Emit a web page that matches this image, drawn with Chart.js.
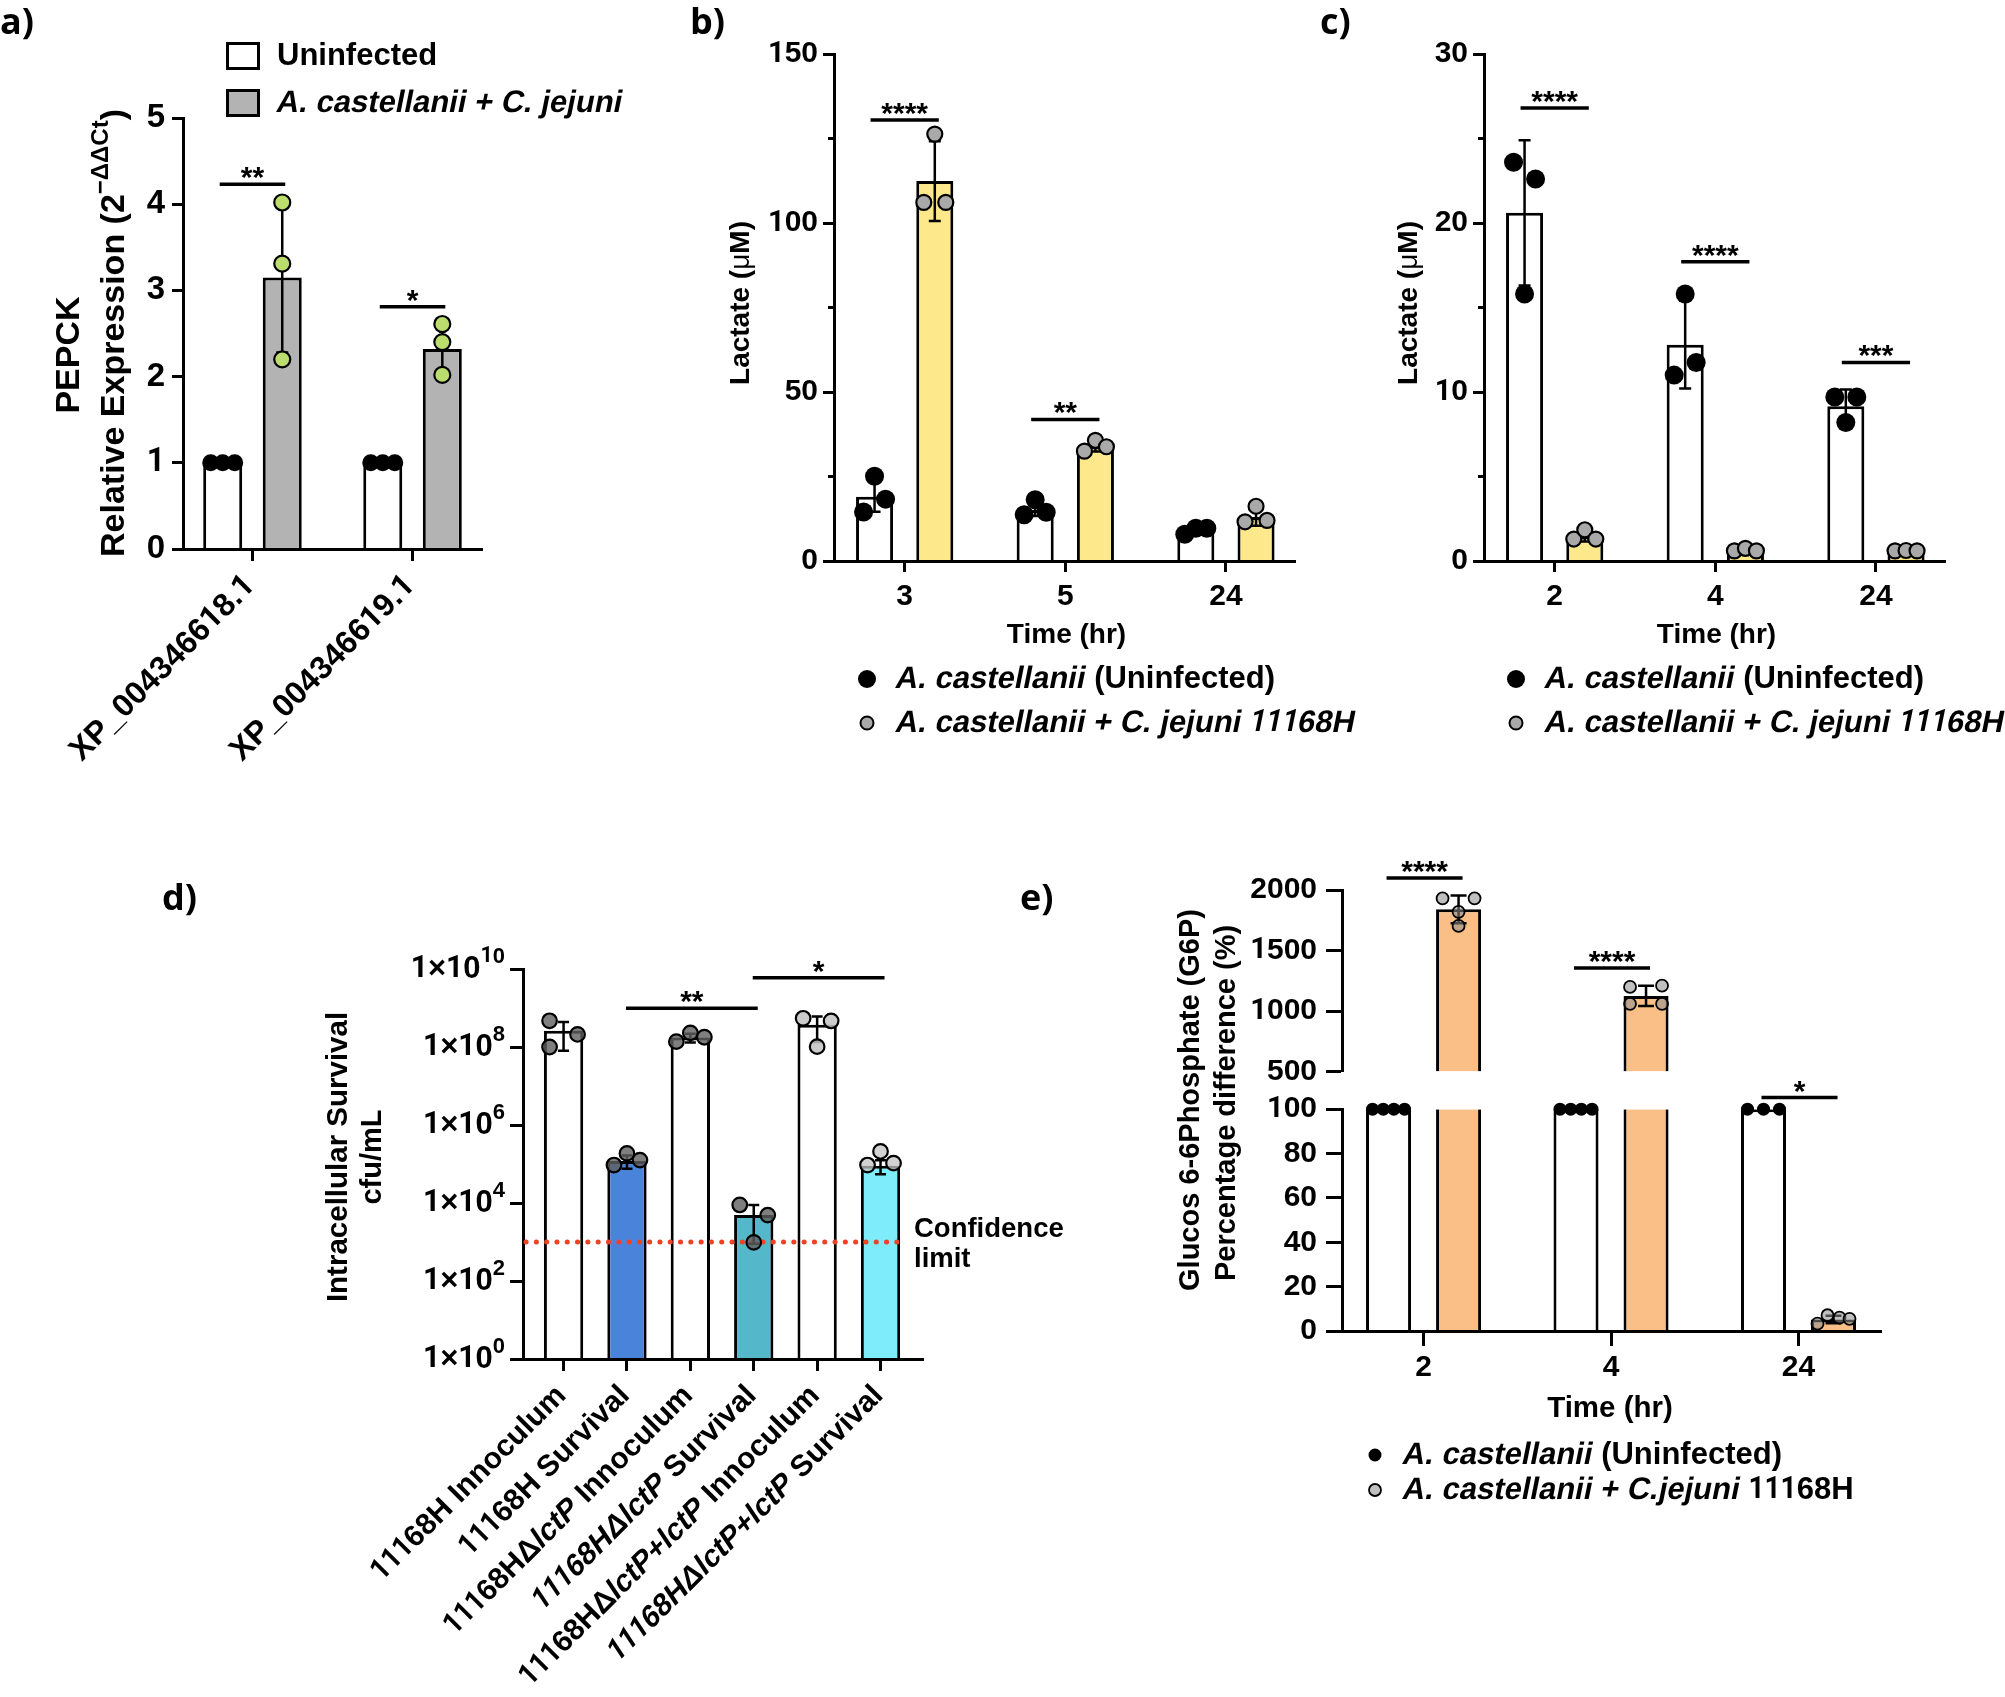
<!DOCTYPE html>
<html>
<head>
<meta charset="utf-8">
<script src="https://cdn.jsdelivr.net/npm/chart.js@4.4.1/dist/chart.umd.min.js"></script>
<style>
  html, body { margin: 0; padding: 0; background: #fff; }
  #page { position: relative; width: 2005px; height: 1697px; overflow: hidden; background: #fff; }
  #page canvas { position: absolute; left: 0; top: 0; }
</style>
</head>
<body>
<div id="page">
  <canvas id="cA" width="2005" height="1697"></canvas>
  <canvas id="cB" width="2005" height="1697"></canvas>
  <canvas id="cC" width="2005" height="1697"></canvas>
  <canvas id="cD" width="2005" height="1697"></canvas>
  <canvas id="cE" width="2005" height="1697"></canvas>
</div>
<script>
const FONT = '"Liberation Sans", Arial, Helvetica, sans-serif';
const ONE_FONT = 'Roboto, "Liberation Sans", sans-serif'; // footless "1" like Arial
const LABEL_FONT = '"Open Sans", "Noto Sans", sans-serif';
const BLACK = '#000000';
const PAGE_W = 2005, PAGE_H = 1697;

// ---------- a) PEPCK relative expression
const aGenes = ["XP_004346618.1", "XP_004346619.1"];
const aUninfMean = [1, 1];
const aUninfSd = [0, 0];
const aUninfPts = [[1, 1, 1], [1, 1, 1]];
const aInfMean = [3.15, 2.32];
const aInfSd = [0.87, 0.29];
const aInfPts = [[4.02, 3.31, 2.2], [2.61, 2.4, 2.02]];
const aTicks = [0, 1, 2, 3, 4, 5];
const aStars = ["**", "*"];
const aStarAt = [4.23, 2.81];

// ---------- b) lactate, 3/5/24 h
const bTimes = ["3", "5", "24"];
const bUninfMean = [19.0, 15.1, 9.2];
const bUninfSd = [4.4, 1.8, 0.9];
const bUninfPts = [[14.5, 25.1, 18.3], [13.7, 18.1, 14.4], [7.9, 9.7, 9.7]];
const bInfMean = [112.4, 33.9, 13.0];
const bInfSd = [11.8, 1.5, 2.6];
const bInfPts = [[106.1, 126.3, 106.1], [32.5, 35.7, 33.8], [11.6, 16.2, 12.0]];
const bTicks = [0, 50, 100, 150];
const bMinor = [25, 75, 125];
const bStars = ["****", "**", ""];
const bStarAt = [130.5, 41.9, null];

// ---------- c) lactate, 2/4/24 h
const cTimes = ["2", "4", "24"];
const cUninfMean = [20.6, 12.8, 9.15];
const cUninfSd = [4.3, 2.6, 1.0];
const cUninfPts = [[23.6, 15.8, 22.6], [11.0, 15.8, 11.75], [9.7, 8.2, 9.7]];
const cInfMean = [1.45, 0.65, 0.6];
const cInfSd = [0.3, 0.1, 0.05];
const cInfPts = [[1.3, 1.85, 1.3], [0.6, 0.75, 0.6], [0.6, 0.62, 0.6]];
const cTicks = [0, 10, 20, 30];
const cMinor = [5, 15, 25];
const cStars = ["****", "****", "***"];
const cStarAt = [26.8, 17.7, 11.75];

// ---------- d) intracellular survival (log)
const dStrains = ["11168H Innoculum", "11168H Survival", "11168H\u0394lctP Innoculum",
  "11168H\u0394lctP Survival", "11168H\u0394lctP+lctP Innoculum", "11168H\u0394lctP+lctP Survival"];
const dItalic = ["", "", "lctP", "11168H\u0394lctP", "lctP+lctP", "11168H\u0394lctP+lctP"];
const dMean = [2.6e8, 1.2e5, 1.75e8, 4.9e3, 3.7e8, 9.0e4];
const dSd = [1.8e8, 4.5e4, 4.5e7, 4.0e3, 2.35e8, 3.5e4];
const dPts = [[4.7e8, 1.0e8, 2.1e8], [9.4e4, 1.87e5, 1.26e5], [1.37e8, 2.3e8, 1.78e8],
  [8.9e3, 4.9e3, 9.8e2], [5.45e8, 4.65e8, 1.02e8], [9.4e4, 2.1e5, 1.05e5]];
const dTicks = [1, 1e2, 1e4, 1e6, 1e8, 1e10];
const dLimit = 1e3;
const dSigFrom = [1, 3];
const dSigTo = [3, 5];
const dSigAt = [9.8e8, 6.0e9];
const dSigLabel = ["**", "*"];

// ---------- e) glucose 6-phosphate (broken axis)
const eTimes = ["2", "4", "24"];
const eUninfMean = [100, 100, 100];
const eUninfPts = [[100, 100, 100, 100], [100, 100, 100, 100], [100, 100, 100]];
const eInfMean = [1840, 1125, 5.2];
const eInfSd = [115, 83, 1.7];
const eInfPts = [[1931, 1931, 1820, 1703], [1199, 1210, 1060, 1060], [3.3, 7.1, 6.0, 5.5]];
const eLowRange = [0, 100];
const eHighRange = [500, 2000];
const eLowTicks = [0, 20, 40, 60, 80, 100];
const eHighTicks = [500, 1000, 1500, 2000];
const eStars = ["****", "****", "*"];
const eStarAt = [2100, 1356, 105.2];

// ---------- colours
const GRAY_BAR = '#b3b3b3';
const GREEN_DOT = '#bbdd6e';
const YELLOW = '#fde98c';
const GRAY_DOT = '#a9a9a9';
const ORANGE = '#f9bf86';
const D_COLORS = ['#ffffff', '#4a84da', '#ffffff', '#55b8ca', '#ffffff', '#7eecfb'];
const D_DOTS = ['rgba(95,95,95,0.8)', 'rgba(95,95,95,0.8)', 'rgba(95,95,95,0.8)',
  'rgba(95,95,95,0.8)', 'rgba(195,195,195,0.85)', 'rgba(195,195,195,0.75)'];
const E_DOT = 'rgba(140,140,140,0.55)';
const LIMIT_RED = '#ef4123';

// ---------- helpers
function xy(vals) { return vals.map((v, i) => ({ x: i, y: v })); }

// mixed-style text; italic is a sheared upright bold, runs of "1" use a footless face
// squeezed to the advance width of the main face
function rich(ctx, parts, x, y, o) {
  const size = o.size;
  const fam = o.family || FONT;
  const supSize = Math.round(size * 0.7);
  const runs = [];
  parts.forEach(p => p.t.split(/(1+)/).forEach(s => {
    if (s) runs.push(Object.assign({}, p, { t: s, one: !o.family && /^1+$/.test(s) }));
  }));
  const fontOf = (r, alt) => (r.w || 'bold') + ' ' + (r.sup ? supSize : size) + 'px ' + (alt ? ONE_FONT : fam);
  let total = 0;
  const widths = runs.map(r => {
    ctx.font = fontOf(r, false);
    const w = ctx.measureText(r.t).width;
    if (r.one) { ctx.font = fontOf(r, true); r.sx = w / ctx.measureText(r.t).width; }
    total += w;
    return w;
  });
  ctx.save();
  ctx.translate(x, y);
  if (o.rot) ctx.rotate(o.rot);
  ctx.fillStyle = o.color || BLACK;
  ctx.textAlign = 'left';
  ctx.textBaseline = o.baseline || 'middle';
  let cx = o.align === 'center' ? -total / 2 : (o.align === 'right' ? -total : 0);
  runs.forEach((r, k) => {
    ctx.font = fontOf(r, r.one);
    ctx.save();
    ctx.translate(cx, r.sup ? -size * 0.4 : 0);
    if (r.i) ctx.transform(1, 0, -0.2, 1, 0, 0);
    if (r.one) ctx.scale(r.sx, 1);
    ctx.fillText(r.t, 0, 0);
    ctx.restore();
    cx += widths[k];
  });
  ctx.restore();
}

function panelLabel(ctx, t, x, y) {
  rich(ctx, [{ t: t }], x, y, { size: 36, family: LABEL_FONT, baseline: 'alphabetic' });
}

function yLabels(ctx, scale, vals, x, size) {
  vals.forEach(v => rich(ctx, [{ t: String(v) }], x, scale.getPixelForValue(v), { size: size, align: 'right' }));
}

function xLabels(ctx, scale, cats, y, size) {
  cats.forEach((c, i) => rich(ctx, [{ t: c }], scale.getPixelForValue(i), y, { size: size, align: 'center' }));
}

function barX(chart, ds, i) { return chart.getDatasetMeta(ds).data[i].x; }

function errorBars(chart, ctx, ds, means, sds, yP, cap, lw) {
  ctx.save();
  ctx.strokeStyle = BLACK;
  ctx.lineWidth = lw;
  means.forEach((m, i) => {
    if (!sds[i]) return;
    const x = barX(chart, ds, i);
    const yT = yP(m + sds[i]), yB = yP(m - sds[i]);
    ctx.beginPath();
    ctx.moveTo(x, yT); ctx.lineTo(x, yB);
    ctx.moveTo(x - cap, yT); ctx.lineTo(x + cap, yT);
    ctx.moveTo(x - cap, yB); ctx.lineTo(x + cap, yB);
    ctx.stroke();
  });
  ctx.restore();
}

function dotSeries(chart, ctx, ds, pts, jit, yP, st) {
  ctx.save();
  pts.forEach((group, i) => {
    const x0 = barX(chart, ds, i);
    const j = Array.isArray(jit[0]) ? jit[i] : jit;
    group.forEach((v, k) => {
      ctx.beginPath();
      ctx.arc(x0 + j[k], yP(v), st.r, 0, Math.PI * 2);
      ctx.fillStyle = typeof st.fill === 'function' ? st.fill(i) : st.fill;
      ctx.fill();
      if (st.line) { ctx.lineWidth = st.line; ctx.strokeStyle = BLACK; ctx.stroke(); }
    });
  });
  ctx.restore();
}

function dot(ctx, x, y, r, fill, line) {
  ctx.beginPath();
  ctx.arc(x, y, r, 0, Math.PI * 2);
  ctx.fillStyle = fill; ctx.fill();
  if (line) { ctx.lineWidth = line; ctx.strokeStyle = BLACK; ctx.stroke(); }
}

function sigBar(ctx, x1, x2, y, label) {
  ctx.save();
  ctx.strokeStyle = BLACK; ctx.lineWidth = 3.5;
  ctx.beginPath(); ctx.moveTo(x1, y); ctx.lineTo(x2, y); ctx.stroke();
  ctx.restore();
  rich(ctx, [{ t: label }], (x1 + x2) / 2, y + 3, { size: 30, align: 'center', baseline: 'alphabetic' });
}

function minorTicks(ctx, scale, vals, len) {
  ctx.save();
  ctx.strokeStyle = BLACK; ctx.lineWidth = 3;
  vals.forEach(v => {
    const y = scale.getPixelForValue(v);
    ctx.beginPath(); ctx.moveTo(scale.right - len, y); ctx.lineTo(scale.right, y); ctx.stroke();
  });
  ctx.restore();
}

function yAxisCfg(o) {
  return {
    type: o.type || 'linear',
    position: 'left',
    min: o.min,
    max: o.max,
    stacked: false,
    afterFit: s => { s.width = o.width; },
    afterBuildTicks: s => { s.ticks = o.ticks.map(v => ({ value: v })); },
    border: { display: true, color: BLACK, width: 3, z: 1 },
    grid: { display: true, drawOnChartArea: false, drawTicks: true, tickLength: o.tickLength, tickWidth: 3, tickColor: BLACK, z: 1 },
    ticks: { display: false }
  };
}

function xAxisCfg(o) {
  return {
    type: 'linear',
    position: 'bottom',
    offset: false,
    min: o.min,
    max: o.max,
    afterFit: s => { s.height = o.height; },
    afterBuildTicks: s => { s.ticks = o.cats.map((c, i) => ({ value: i })); },
    border: { display: true, color: BLACK, width: 3, z: 1 },
    grid: { display: true, offset: false, drawOnChartArea: false, drawTicks: true, tickLength: o.tickLength, tickWidth: 3, tickColor: BLACK, z: 1 },
    ticks: { display: false, autoSkip: false }
  };
}

function makeChart(id, box, datasets, scales, draw) {
  return new Chart(document.getElementById(id), {
    type: 'bar',
    data: { datasets: datasets },
    options: {
      responsive: false,
      animation: false,
      events: [],
      layout: { autoPadding: false, padding: { left: 0, bottom: 0, top: box.top, right: PAGE_W - box.right } },
      plugins: { legend: { display: false }, tooltip: { enabled: false } },
      scales: scales
    },
    plugins: [{ id: 'overlay_' + id, afterDraw(chart) { const ctx = chart.ctx; ctx.save(); draw(chart, ctx); ctx.restore(); } }]
  });
}

function barSet(data, fill, yId, extra) {
  return Object.assign({
    data: data, backgroundColor: fill, borderColor: BLACK, borderWidth: 3, borderSkipped: 'start',
    xAxisID: 'x', yAxisID: yId || 'y'
  }, extra || {});
}

// ---------- a)
const boxA = { left: 183, right: 482, top: 118, bottom: 549 };
makeChart('cA', boxA,
  [
    barSet(xy(aUninfMean), '#ffffff', 'y', { categoryPercentage: 0.744, barPercentage: 0.655 }),
    barSet(xy(aInfMean), GRAY_BAR, 'y', { categoryPercentage: 0.744, barPercentage: 0.655 })
  ],
  {
    x: xAxisCfg({ cats: aGenes, min: -0.434, max: 1.434, height: PAGE_H - boxA.bottom, tickLength: 12 }),
    y: yAxisCfg({ min: 0, max: 5, ticks: aTicks, width: boxA.left, tickLength: 11 })
  },
  (chart, ctx) => {
    const ys = chart.scales.y, xs = chart.scales.x, area = chart.chartArea;
    const yP = v => ys.getPixelForValue(v);
    yLabels(ctx, ys, aTicks, area.left - 18, 33);
    errorBars(chart, ctx, 1, aInfMean, aInfSd, yP, 6, 2.5);
    dotSeries(chart, ctx, 0, aUninfPts, [-12, 0, 12], yP, { r: 8.5, fill: BLACK });
    dotSeries(chart, ctx, 1, aInfPts, [0, 0, 0], yP, { r: 8, fill: GREEN_DOT, line: 2.2 });
    aStars.forEach((s, i) => sigBar(ctx, barX(chart, 0, i) - 3, barX(chart, 1, i) + 3, yP(aStarAt[i]), s));
    aGenes.forEach((g, i) => rich(ctx, [{ t: g }], xs.getPixelForValue(i) - 2, area.bottom + 32,
      { size: 32, align: 'right', rot: -Math.PI / 4 }));
    rich(ctx, [{ t: 'PEPCK' }], 70, 355, { size: 34, align: 'center', rot: -Math.PI / 2 });
    rich(ctx, [{ t: 'Relative Expression (2' }, { t: '\u2212\u0394\u0394Ct', sup: true }, { t: ')' }], 115, 333,
      { size: 34, align: 'center', rot: -Math.PI / 2 });
    ctx.lineWidth = 3; ctx.strokeStyle = BLACK;
    ctx.fillStyle = '#ffffff'; ctx.fillRect(227.5, 43.5, 31, 25); ctx.strokeRect(227.5, 43.5, 31, 25);
    ctx.fillStyle = GRAY_BAR; ctx.fillRect(227.5, 90.5, 31, 25); ctx.strokeRect(227.5, 90.5, 31, 25);
    rich(ctx, [{ t: 'Uninfected' }], 277, 56, { size: 31 });
    rich(ctx, [{ t: 'A. castellanii + C. jejuni', i: true }], 277, 103, { size: 31 });
    panelLabel(ctx, 'a)', 0, 34);
  });

// ---------- b) and c) share a layout
function lactatePanel(id, box, cats, uM, uS, uP, iM, iS, iP, ticks, minor, ymax, stars, starAt, titleX, legendX, lbl, lblX) {
  makeChart(id, box,
    [
      barSet(xy(uM), '#ffffff', 'y', { categoryPercentage: 0.75, barPercentage: 0.615 }),
      barSet(xy(iM), YELLOW, 'y', { categoryPercentage: 0.75, barPercentage: 0.615 })
    ],
    {
      x: xAxisCfg({ cats: cats, min: -0.44, max: 2.43, height: PAGE_H - box.bottom, tickLength: 11 }),
      y: yAxisCfg({ min: 0, max: ymax, ticks: ticks, width: box.left, tickLength: 11 })
    },
    (chart, ctx) => {
      const ys = chart.scales.y, xs = chart.scales.x, area = chart.chartArea;
      const yP = v => ys.getPixelForValue(v);
      yLabels(ctx, ys, ticks, area.left - 16, 30);
      xLabels(ctx, xs, cats, area.bottom + 35.5, 30);
      minorTicks(ctx, ys, minor, 6);
      errorBars(chart, ctx, 0, uM, uS, yP, 6, 2.5);
      errorBars(chart, ctx, 1, iM, iS, yP, 6, 2.5);
      dotSeries(chart, ctx, 0, uP, [-11, 0, 11], yP, { r: 9.5, fill: BLACK });
      dotSeries(chart, ctx, 1, iP, [-11, 0, 11], yP, { r: 7.5, fill: GRAY_DOT, line: 2.2 });
      stars.forEach((s, i) => {
        if (!s) return;
        sigBar(ctx, barX(chart, 0, i) - 4, barX(chart, 1, i) + 4, yP(starAt[i]), s);
      });
      rich(ctx, [{ t: 'Lactate (' }, { t: '\u03bc', w: 'normal' }, { t: 'M)' }], titleX, 303,
        { size: 28, align: 'center', rot: -Math.PI / 2 });
      rich(ctx, [{ t: 'Time (hr)' }], (area.left + area.right) / 2 + 2, 635, { size: 28, align: 'center' });
      dot(ctx, legendX, 679, 9, BLACK, 0);
      rich(ctx, [{ t: 'A. castellanii', i: true }, { t: ' (Uninfected)' }], legendX + 29, 679, { size: 31 });
      dot(ctx, legendX, 723, 6.5, GRAY_DOT, 2);
      rich(ctx, [{ t: 'A. castellanii + C. jejuni 11168H', i: true }], legendX + 29, 723, { size: 31 });
      panelLabel(ctx, lbl, lblX, 34);
    });
}

lactatePanel('cB', { left: 834, right: 1295, top: 54, bottom: 561 }, bTimes,
  bUninfMean, bUninfSd, bUninfPts, bInfMean, bInfSd, bInfPts, bTicks, bMinor, 150, bStars, bStarAt, 741, 867, 'b)', 690);
lactatePanel('cC', { left: 1484, right: 1945, top: 54, bottom: 561 }, cTimes,
  cUninfMean, cUninfSd, cUninfPts, cInfMean, cInfSd, cInfPts, cTicks, cMinor, 30, cStars, cStarAt, 1409, 1516, 'c)', 1320);

// ---------- d)
const boxD = { left: 523, right: 923, top: 969, bottom: 1359 };
makeChart('cD', boxD,
  [barSet(xy(dMean), D_COLORS, 'y', { categoryPercentage: 1, barPercentage: 0.62 })],
  {
    x: xAxisCfg({ cats: dStrains, min: -0.64, max: 5.67, height: PAGE_H - boxD.bottom, tickLength: 12 }),
    y: yAxisCfg({ type: 'logarithmic', min: 1, max: 1e10, ticks: dTicks, width: boxD.left, tickLength: 13 })
  },
  (chart, ctx) => {
    const ys = chart.scales.y, xs = chart.scales.x, area = chart.chartArea;
    const yP = v => ys.getPixelForValue(v);
    dTicks.forEach(v => rich(ctx, [{ t: '1\u00d710' }, { t: String(Math.round(Math.log10(v))), sup: true }],
      area.left - 18, yP(v), { size: 31, align: 'right' }));
    ctx.save();
    ctx.strokeStyle = LIMIT_RED; ctx.lineWidth = 5; ctx.lineCap = 'round'; ctx.setLineDash([0.1, 10.2]);
    ctx.beginPath(); ctx.moveTo(area.left + 3, yP(dLimit)); ctx.lineTo(area.right - 18, yP(dLimit)); ctx.stroke();
    ctx.restore();
    errorBars(chart, ctx, 0, dMean, dSd, yP, 5.5, 2.5);
    dotSeries(chart, ctx, 0, dPts, [[-14, -14, 14], [-13, 0, 13], [-14, 0, 14], [-14, 14, 0], [-14, 14, 0], [-13, 0, 13]],
      yP, { r: 7.3, fill: i => D_DOTS[i], line: 2.2 });
    dSigLabel.forEach((s, k) => sigBar(ctx, barX(chart, 0, dSigFrom[k]) - 1, barX(chart, 0, dSigTo[k]) + 4, yP(dSigAt[k]), s));
    rich(ctx, [{ t: 'Confidence' }], 914, 1229, { size: 27.5 });
    rich(ctx, [{ t: 'limit' }], 914, 1259, { size: 27.5 });
    dStrains.forEach((s, i) => {
      const it = dItalic[i];
      let parts;
      if (!it) parts = [{ t: s }];
      else {
        const k = s.indexOf(it);
        parts = [{ t: s.slice(0, k) }, { t: it, i: true }, { t: s.slice(k + it.length) }].filter(p => p.t);
      }
      rich(ctx, parts, xs.getPixelForValue(i) - 2, area.bottom + 32, { size: 30, align: 'right', rot: -Math.PI / 4 });
    });
    rich(ctx, [{ t: 'Intracellular Survival' }], 339, 1157, { size: 29.5, align: 'center', rot: -Math.PI / 2 });
    rich(ctx, [{ t: 'cfu/mL' }], 373, 1157, { size: 29, align: 'center', rot: -Math.PI / 2 });
    panelLabel(ctx, 'd)', 162, 910);
  });

// ---------- e)
const boxE = { left: 1342, right: 1881, top: 890, bottom: 1331 };
const eBarOpts = { categoryPercentage: 0.747, barPercentage: 0.643 };
makeChart('cE', boxE,
  [
    barSet(xy(eUninfMean.map(v => Math.min(v, eLowRange[1]))), '#ffffff', 'yLow', Object.assign({ stack: 'u' }, eBarOpts)),
    barSet(xy(eInfMean.map(v => Math.min(v, eLowRange[1]))), ORANGE, 'yLow', Object.assign({
      stack: 'i',
      borderWidth: c => (eInfMean[c.dataIndex] > eLowRange[1] ? { top: 0, left: 3, right: 3, bottom: 0 } : 3)
    }, eBarOpts)),
    barSet(eInfMean.map((v, i) => ({ x: i, y: v > eHighRange[0] ? [eHighRange[0], v] : null })), ORANGE, 'yHigh',
      Object.assign({ stack: 'i' }, eBarOpts))
  ],
  {
    x: xAxisCfg({ cats: eTimes, min: -0.435, max: 2.44, height: PAGE_H - boxE.bottom, tickLength: 15 }),
    yLow: Object.assign(yAxisCfg({ min: eLowRange[0], max: eLowRange[1], ticks: eLowTicks, width: boxE.left, tickLength: 16 }),
      { stack: 'e', stackWeight: 222 }),
    yGap: { type: 'linear', position: 'left', min: 0, max: 1, stack: 'e', stackWeight: 37.6,
      afterFit: s => { s.width = boxE.left; },
      border: { display: false }, grid: { display: false }, ticks: { display: false } },
    yHigh: Object.assign(yAxisCfg({ min: eHighRange[0], max: eHighRange[1], ticks: eHighTicks, width: boxE.left, tickLength: 16 }),
      { stack: 'e', stackWeight: 181.7 })
  },
  (chart, ctx) => {
    const lo = chart.scales.yLow, hi = chart.scales.yHigh, xs = chart.scales.x, area = chart.chartArea;
    const yP = v => (v > eHighRange[0] ? hi : lo).getPixelForValue(v);
    yLabels(ctx, lo, eLowTicks, area.left - 25, 30);
    yLabels(ctx, hi, eHighTicks, area.left - 25, 30);
    xLabels(ctx, xs, eTimes, area.bottom + 36.5, 30);
    errorBars(chart, ctx, 1, eInfMean, eInfSd, yP, 8, 2.5);
    dotSeries(chart, ctx, 0, eUninfPts, [[-16, -5.3, 5.3, 16], [-16, -5.3, 5.3, 16], [-16, 0, 16]], yP, { r: 6.5, fill: BLACK });
    dotSeries(chart, ctx, 1, eInfPts, [[-16, 16, 0, 0], [-16, 16, -16, 16], [-16, -6, 6, 16]], yP,
      { r: 6, fill: E_DOT, line: 1.8 });
    eStars.forEach((s, i) => sigBar(ctx, barX(chart, 0, i) - 2, barX(chart, 1, i) + 4, yP(eStarAt[i]), s));
    rich(ctx, [{ t: 'Glucos 6-6Phosphate (G6P)' }], 1191, 1100, { size: 29, align: 'center', rot: -Math.PI / 2 });
    rich(ctx, [{ t: 'Percentage difference (%)' }], 1227, 1103, { size: 29, align: 'center', rot: -Math.PI / 2 });
    rich(ctx, [{ t: 'Time (hr)' }], 1610, 1409, { size: 29.5, align: 'center' });
    dot(ctx, 1375, 1455, 6.5, BLACK, 0);
    rich(ctx, [{ t: 'A. castellanii', i: true }, { t: ' (Uninfected)' }], 1403, 1455, { size: 31 });
    dot(ctx, 1375, 1490, 6, E_DOT, 1.8);
    rich(ctx, [{ t: 'A. castellanii + C.jejuni', i: true }, { t: ' 11168H' }], 1403, 1490, { size: 31 });
    panelLabel(ctx, 'e)', 1020, 910);
  });
</script>
</body>
</html>
